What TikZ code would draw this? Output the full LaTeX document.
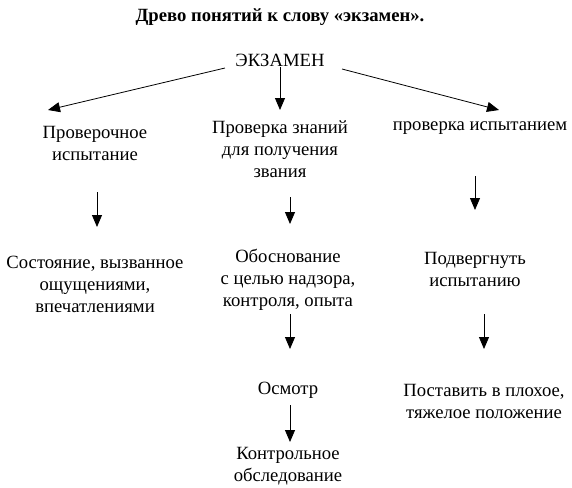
\documentclass[tikz,border=0pt]{standalone}
\usepackage{fontspec}
\setmainfont{Liberation Serif}
\usetikzlibrary{arrows.meta}
\begin{document}
\begin{tikzpicture}[x=0.75pt,y=-0.75pt,
  lbl/.style={align=center,inner sep=0pt,font=\fontsize{14pt}{16.5pt}\selectfont},
  ttl/.style={align=center,inner sep=0pt,font=\bfseries\fontsize{14pt}{16.5pt}\selectfont},
  arr/.style={line width=0.6pt,-{Triangle[width=7.5pt,length=9pt]}}]
\useasboundingbox (0,0) rectangle (572,487);
\node[ttl] (title) at (280,17) {Древо понятий к слову «экзамен».};
\node[lbl] (root) at (280,60) {ЭКЗАМЕН};
\node[lbl] (a) at (95,143) {Проверочное\\испытание};
\node[lbl] (b) at (280,149) {Проверка знаний\\для получения\\звания};
\node[lbl] (c) at (480,128) {проверка испытанием};
\node[lbl] (a2) at (95,284) {Состояние, вызванное\\ощущениями,\\впечатлениями};
\node[lbl] (b2) at (288,280) {Обоснование\\с целью надзора,\\контроля, опыта};
\node[lbl] (c2) at (475,269) {Подвергнуть\\испытанию};
\node[lbl] (b3) at (288,390) {Осмотр};
\node[lbl] (c3) at (484,401) {Поставить в плохое,\\тяжелое положение};
\node[lbl] (b4) at (288,466) {Контрольное\\обследование};
% arrow end points
\coordinate (r1) at (225,68); \coordinate (a0) at (48,110);
\coordinate (r2) at (280,67); \coordinate (b0) at (280,110);
\coordinate (r3) at (342,69); \coordinate (c0) at (499,110);
\coordinate (a1s) at (97,192); \coordinate (a1e) at (97,227);
\coordinate (b1s) at (290,197); \coordinate (b1e) at (290,224);
\coordinate (c1s) at (475,176); \coordinate (c1e) at (475,210);
\coordinate (b2s) at (290,314); \coordinate (b2e) at (290,349);
\coordinate (c2s) at (484,314); \coordinate (c2e) at (484,349);
\coordinate (b3s) at (290,405); \coordinate (b3e) at (290,442);
\draw[arr] (r1) -- (a0);
\draw[arr] (r2) -- (b0);
\draw[arr] (r3) -- (c0);
\draw[arr] (a1s) -- (a1e);
\draw[arr] (b1s) -- (b1e);
\draw[arr] (c1s) -- (c1e);
\draw[arr] (b2s) -- (b2e);
\draw[arr] (c2s) -- (c2e);
\draw[arr] (b3s) -- (b3e);
\end{tikzpicture}
\end{document}
